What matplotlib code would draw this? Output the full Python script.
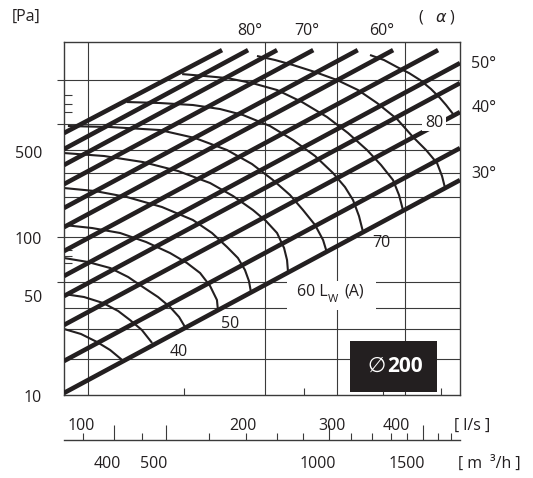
import matplotlib.pyplot as plt
from matplotlib.patches import Rectangle
from matplotlib.ticker import NullLocator, NullFormatter

plt.rcParams['font.family'] = ['Open Sans', 'DejaVu Sans']
INK = '#231f20'
GRID = '#3a3a3a'

# blade angle lines: start / end (flow l/s, pressure Pa)
angle_deg = [85, 80, 75, 70, 65, 60, 55, 50, 45, 40, 35, 30]
angle_q0 = [90, 90, 90, 90, 90, 90, 90, 90, 90, 90, 90, 90]
angle_p0 = [452, 358, 284, 215, 152, 115, 81.2, 56.5, 42.2, 27.7, 16.4, 10.3]
angle_q1 = [184, 207, 236, 278, 340, 399, 489, 540, 540, 540, 540, 540]
angle_p1 = [1511, 1511, 1511, 1511, 1511, 1511, 1511, 1251, 935, 613, 363, 228]

# sound power curves Lw (A)
lw_levels = [35, 40, 45, 50, 55, 60, 65, 70, 75, 80, 85]
lw_q = [
    [90, 97.2, 104.5, 110.9, 117.1],
    [90, 98.53, 107.4, 115.0, 121.3, 128.0, 134.1],
    [90, 100.3, 110.9, 120.3, 128.6, 137.7, 145.4, 151.5, 155.6],
    [90, 102.2, 116.0, 130.5, 145.4, 157.0, 166.6, 174.3, 179.8, 180.6],
    [90, 103.6, 119.7, 140.2, 161.3, 175.8, 188.2, 197.7, 204.1, 207.8, 209.7],
    [90, 107.9, 128.6, 150.8, 174.3, 193.4, 211.6, 224.5, 236.0, 243.6,
     246.9, 248.0],
    [91.6, 110.9, 138.9, 162.8, 188.2, 210.7, 231.7, 250.3, 265.4, 280.3,
     290.6, 295.9],
    [119.7, 138.9, 161.3, 182.3, 202.3, 228.6, 253.7, 280.3, 304.0, 320.9,
     332.8, 341.9, 348.2],
    [153.6, 170.4, 188.2, 210.7, 236.0, 264.2, 295.9, 325.3, 354.6, 377.8,
     398.8, 409.8, 417.2],
    [215.5, 233.9, 253.7, 280.3, 309.6, 340.4, 371.0, 406.1, 436.6, 463.1,
     486.7, 497.8, 504.7],
    [359.4, 382.9, 406.1, 428.8, 450.7, 473.6, 493.3, 507.0, 523.3],
]
lw_p = [
    [26.13, 24.29, 21.62, 19.24, 16.64],
    [43.47, 41.61, 38.13, 33.94, 29.78, 25.75, 21.31],
    [73.39, 69.24, 63.45, 55.67, 48.13, 41.61, 35.98, 31.10, 26.90],
    [118.6, 113.5, 105.6, 92.62, 78.92, 68.24, 59.00, 48.84, 39.84, 34.44],
    [203.1, 194.4, 178.1, 154.1, 127.5, 105.6, 86.13, 73.39, 61.63, 52.52,
     44.75],
    [338.0, 323.6, 296.5, 260.1, 218.5, 180.8, 147.5, 125.7, 105.6, 84.89,
     71.28, 59.87],
    [500.7, 493.4, 472.3, 420.5, 353.1, 288.0, 228.2, 183.4, 147.5, 118.6,
     95.41, 78.92],
    [709.9, 699.7, 679.6, 641.2, 587.5, 500.7, 408.3, 323.6, 252.6, 206.1,
     170.6, 135.1, 107.2],
    [1066, 1036, 1006, 935.9, 845.3, 709.9, 570.7, 452.2, 353.1, 283.8,
     228.2, 183.4, 147.5],
    [1387, 1308, 1216, 1098, 977.7, 845.3, 699.7, 554.3, 426.6, 353.1,
     292.2, 241.9, 203.1],
    [1407, 1308, 1181, 1082, 977.7, 857.7, 752.5, 679.6, 596.1],
]

# grid of the diagram
grid_p = [977, 513, 353, 251, 179, 100, 51.5, 35.3, 26.1, 16.8]
grid_q = [100.4, 223.5, 309, 421]
left_out_ticks = [977, 513, 100, 51.5]
left_in_ticks = [786, 690, 611, 82.4, 75.6, 68.2]
bottom_in_ticks = [155.1, 266.6, 380.7, 495.5]

# flow scale below the diagram
scale_short = [98.0, 127.9, 173.5, 204.8, 236.0, 265.4, 329.8, 362.7,
               395.2, 424.9, 488.9, 518.5]
scale_long = [112.7, 142.8, 456.8]
scale_mid = [298.6]

W, H = 533, 478


def fx(x):
    return x / W


def fy(y):
    return 1 - y / H


fig = plt.figure(figsize=(W / 100, H / 100), dpi=100)
ax = fig.add_axes([fx(64), fy(395), 396 / W, 353 / H])
ax.set_xscale('log')
ax.set_yscale('log')
ax.set_xlim(90, 540)
ax.set_ylim(10, 1700)

for p in grid_p:
    ax.axhline(p, color=GRID, lw=0.8, zorder=1)
for q in grid_q:
    ax.axvline(q, color=GRID, lw=0.8, zorder=1)

for q, p in zip(lw_q, lw_p):
    ax.plot(q, p, color=INK, lw=1.5, zorder=2, solid_capstyle='butt',
            solid_joinstyle='round')

for i in range(len(angle_deg)):
    ax.plot([angle_q0[i], angle_q1[i]], [angle_p0[i], angle_p1[i]],
            color=INK, lw=3.3, zorder=3, solid_capstyle='butt')

ax.set_yticks(left_out_ticks)
ax.set_yticks(left_in_ticks, minor=True)
ax.set_xticks(bottom_in_ticks)
ax.xaxis.set_minor_locator(NullLocator())
ax.yaxis.set_minor_formatter(NullFormatter())
ax.tick_params(axis='y', which='major', direction='out', length=5,
               width=0.8, color=GRID, labelleft=False)
ax.tick_params(axis='y', which='minor', direction='in', length=6,
               width=0.8, color=GRID, labelleft=False)
ax.tick_params(axis='x', which='major', direction='in', length=5,
               width=0.8, color=GRID, labelbottom=False)
for s in ax.spines.values():
    s.set_color(GRID)
    s.set_linewidth(1.0)

# l/s and m3/h scale
ax2 = fig.add_axes([fx(64), fy(440), 396 / W, 0.001])
ax2.set_xscale('log')
ax2.set_xlim(90, 540)
ax2.set_yticks([])
ax2.set_xticks(scale_long + scale_mid)
ax2.set_xticks(scale_short, minor=True)
ax2.xaxis.set_major_formatter(NullFormatter())
ax2.xaxis.set_minor_formatter(NullFormatter())
ax2.tick_params(axis='x', which='major', direction='in', length=10.5,
                width=0.8, color=GRID, labelbottom=False)
ax2.tick_params(axis='x', which='minor', direction='in', length=5,
                width=0.8, color=GRID, labelbottom=False)
for k in ['top', 'left', 'right']:
    ax2.spines[k].set_visible(False)
ax2.spines['bottom'].set_color(GRID)
ax2.spines['bottom'].set_linewidth(1.0)
ax2.patch.set_visible(False)

fs = 11.5


def label(x, y, s, ha='center', size=fs, color=INK, **kw):
    fig.text(fx(x), fy(y), s, ha=ha, va='center', fontsize=size,
             color=color, **kw)


# white gaps behind two labels
fig.patches.append(Rectangle((fx(287), fy(310)), 89 / W, 29 / H,
                             transform=fig.transFigure, fc='white',
                             ec='none', zorder=1))
fig.patches.append(Rectangle((fx(422), fy(131)), 24 / W, 15 / H,
                             transform=fig.transFigure, fc='white',
                             ec='none', zorder=1))
# diameter box
fig.patches.append(Rectangle((fx(350), fy(392)), 87 / W, 51 / H,
                             transform=fig.transFigure, fc=INK,
                             ec='none', zorder=1))

label(26, 17, '[Pa]')
label(42, 154, '500', ha='right')
label(42, 240, '100', ha='right')
label(42, 298, '50', ha='right')
label(42, 398, '10', ha='right')

label(250, 31, '80°')
label(307, 31, '70°')
label(382, 31, '60°')
label(421, 17, '(')
label(441, 18, r'$\alpha$')
label(452, 17, ')')
label(484, 64, '50°')
label(484, 108, '40°')
label(484, 174, '30°')

label(179, 352, '40')
label(230, 324, '50')
label(297, 292, '60 L', ha='left')
label(333, 300, 'W', size=8)
label(344, 291, '(A)', ha='left')
label(381, 243, '70')
label(434, 123, '80')

label(376, 366, '∅', size=15, family=['DejaVu Sans'], color='white')
label(405, 366, '200', size=15, fontweight='bold', color='white')

label(81, 426, '100')
label(243, 426, '200')
label(332, 426, '300')
label(396, 426, '400')
label(472, 426, '[ l/s ]')

label(107, 464, '400')
label(154, 464, '500')
label(318, 464, '1000')
label(407, 464, '1500')
label(458, 464, '[ m', ha='left')
label(490, 464, '³/h ]', ha='left')

fig.savefig('out.png', dpi=100)
